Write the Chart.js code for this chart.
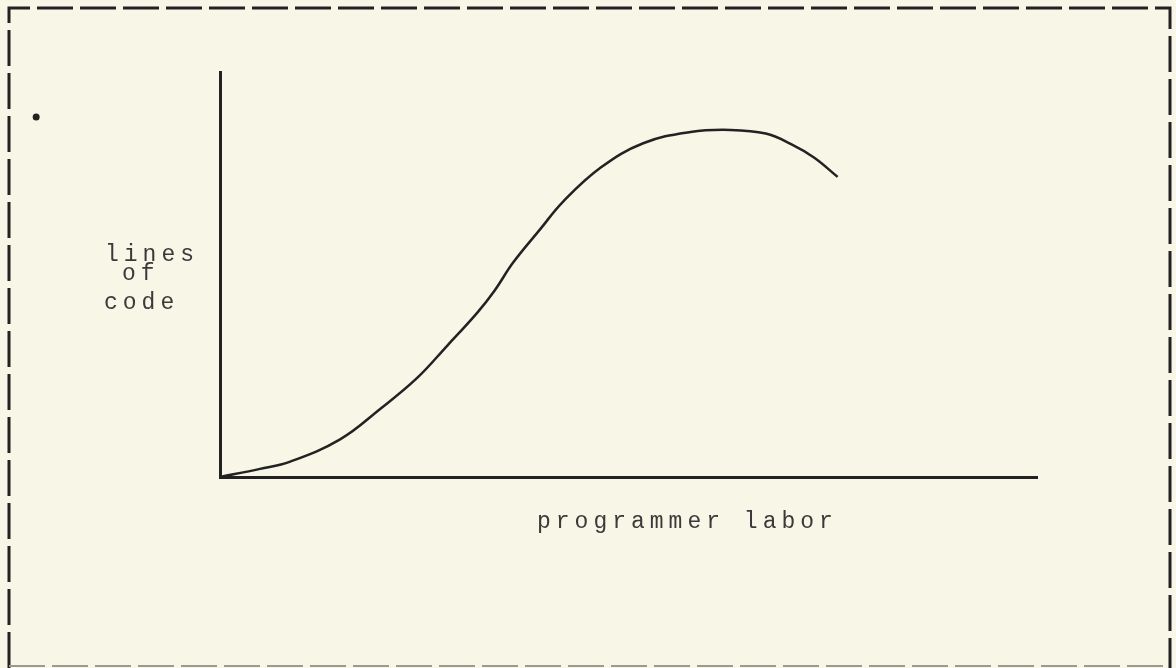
<!DOCTYPE html>
<html>
<head>
<meta charset="utf-8">
<script src="https://cdn.jsdelivr.net/npm/chart.js@4.4.1/dist/chart.umd.min.js"></script>
<style>
    html, body { margin: 0; padding: 0; background: #f8f6e7; }
    #wrap { width: 1176px; height: 668px; position: relative; }
</style>
</head>
<body>
<div id="wrap"><canvas id="laborChart" width="1176" height="668"></canvas></div>
<script>
// curve (x = programmer labor, y = lines of code, both 0..100)
const laborX = [0, 4.9, 8.6, 14.7, 19.6, 24.1, 27.8, 31.5, 33.6, 35.9, 39.2, 42.0, 46.6, 51.8, 57.6, 62.5, 66.8, 69.9, 72.7, 75.6];
const codeY = [0, 2.0, 3.8, 9.3, 16.8, 24.4, 32.4, 40.6, 46.0, 53.0, 61.2, 68.0, 76.4, 82.4, 85.2, 85.7, 84.8, 82.2, 78.9, 74.1];
// stray dot left of the axis on the scan
const strayDotX = [-22.5];
const strayDotY = [88.9];

const xTitle = 'programmer labor';
const yTitle = ['lines', 'of', 'code'];

const ink = '#222';
const typeFont = '23px "Liberation Mono", "DejaVu Sans Mono", monospace';

const curve = laborX.map((x, i) => ({ x: x, y: codeY[i] }));

const paperPlugin = {
    id: 'paper',
    afterDraw(chart) {
        const ctx = chart.ctx;
        const area = chart.chartArea;
        const sx = chart.scales.x;
        const sy = chart.scales.y;
        ctx.save();

        // dashed frame around the figure
        ctx.strokeStyle = ink;
        ctx.lineWidth = 3;
        ctx.setLineDash([36, 7]);
        ctx.beginPath();
        ctx.moveTo(9, 668);
        ctx.lineTo(9, 8);
        ctx.lineTo(1170, 8);
        ctx.lineTo(1170, 668);
        ctx.stroke();
        ctx.strokeStyle = '#9a9a90';
        ctx.lineWidth = 2;
        ctx.beginPath();
        ctx.moveTo(9, 666);
        ctx.lineTo(1170, 666);
        ctx.stroke();
        ctx.setLineDash([]);

        // the stray dot sits outside the axes, placed through the scales
        ctx.fillStyle = ink;
        strayDotX.forEach((x, i) => {
            ctx.beginPath();
            ctx.arc(sx.getPixelForValue(x), sy.getPixelForValue(strayDotY[i]), 3.5, 0, Math.PI * 2);
            ctx.fill();
        });

        // typewritten labels
        ctx.fillStyle = '#3a3a3a';
        ctx.font = typeFont;
        ctx.letterSpacing = '5px';
        ctx.textBaseline = 'alphabetic';
        ctx.textAlign = 'left';
        ctx.fillText(xTitle, area.left + 317, area.bottom + 51);
        const yPos = [[105, 261], [122, 280], [104, 309]];
        yTitle.forEach((t, i) => ctx.fillText(t, yPos[i][0], yPos[i][1]));
        ctx.restore();
    }
};

new Chart(document.getElementById('laborChart'), {
    type: 'line',
    data: {
        datasets: [{
            data: curve,
            borderColor: ink,
            borderWidth: 2.5,
            pointRadius: 0,
            tension: 0.4,
            fill: false
        }]
    },
    options: {
        responsive: false,
        animation: false,
        layout: { padding: { left: 220, right: 139, top: 72, bottom: 191 } },
        plugins: {
            legend: { display: false },
            tooltip: { enabled: false }
        },
        scales: {
            x: {
                type: 'linear',
                min: 0,
                max: 100,
                grid: { display: false, drawTicks: false },
                ticks: { display: false },
                border: { display: true, color: ink, width: 3 }
            },
            y: {
                min: 0,
                max: 100,
                grid: { display: false, drawTicks: false },
                ticks: { display: false },
                border: { display: true, color: ink, width: 3 }
            }
        }
    },
    plugins: [paperPlugin]
});
</script>
</body>
</html>
